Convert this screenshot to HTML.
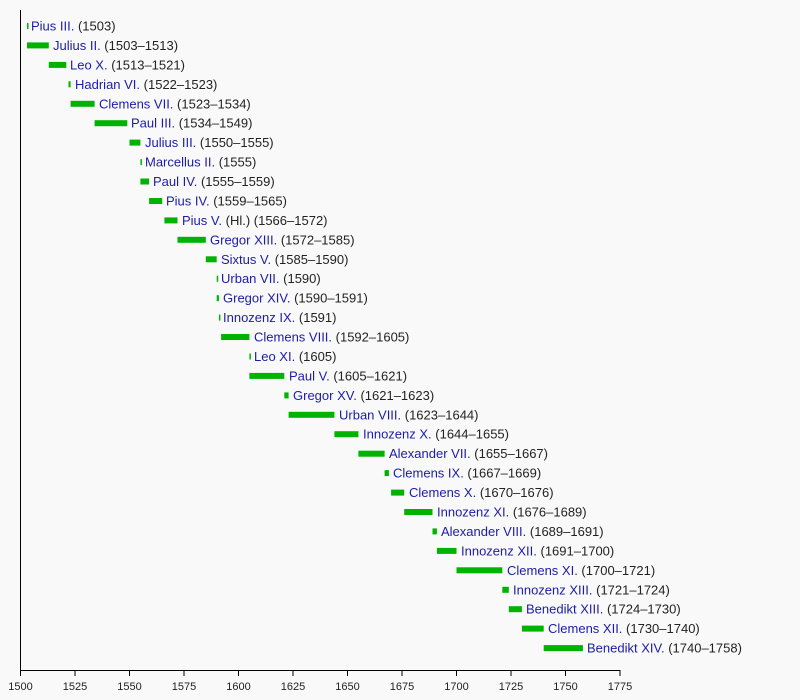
<!DOCTYPE html>
<html><head><meta charset="utf-8"><style>
html,body{margin:0;padding:0;background:#f9f9f9;}
svg{display:block;}
text{font-family:"Liberation Sans",Arial,sans-serif;font-size:13px;}
.n{fill:#1c1ca8;}
.p{fill:#222;}
</style></head><body>
<svg width="800" height="700" viewBox="0 0 800 700" xmlns="http://www.w3.org/2000/svg">
<rect width="800" height="700" fill="#f9f9f9"/>
<g fill="#00b300">
<rect x="27.0" y="23.0" width="1.5" height="6"/>
<rect x="27.0" y="42.4" width="21.8" height="6"/>
<rect x="48.8" y="61.9" width="17.5" height="6"/>
<rect x="68.5" y="81.3" width="2.1" height="6"/>
<rect x="70.6" y="100.8" width="24.0" height="6"/>
<rect x="94.6" y="120.2" width="32.7" height="6"/>
<rect x="129.5" y="139.6" width="10.9" height="6"/>
<rect x="140.4" y="159.1" width="1.5" height="6"/>
<rect x="140.4" y="178.5" width="8.7" height="6"/>
<rect x="149.1" y="198.0" width="13.1" height="6"/>
<rect x="164.4" y="217.4" width="13.1" height="6"/>
<rect x="177.5" y="236.8" width="28.3" height="6"/>
<rect x="205.8" y="256.3" width="10.9" height="6"/>
<rect x="216.7" y="275.7" width="1.5" height="6"/>
<rect x="216.7" y="295.2" width="2.2" height="6"/>
<rect x="218.9" y="314.6" width="1.5" height="6"/>
<rect x="221.1" y="334.0" width="28.3" height="6"/>
<rect x="249.4" y="353.5" width="1.5" height="6"/>
<rect x="249.4" y="372.9" width="34.9" height="6"/>
<rect x="284.3" y="392.4" width="4.3" height="6"/>
<rect x="288.6" y="411.8" width="45.8" height="6"/>
<rect x="334.4" y="431.2" width="24.0" height="6"/>
<rect x="358.4" y="450.7" width="26.2" height="6"/>
<rect x="384.6" y="470.1" width="4.3" height="6"/>
<rect x="391.1" y="489.6" width="13.1" height="6"/>
<rect x="404.2" y="509.0" width="28.3" height="6"/>
<rect x="432.5" y="528.4" width="4.4" height="6"/>
<rect x="436.9" y="547.9" width="19.6" height="6"/>
<rect x="456.5" y="567.3" width="45.8" height="6"/>
<rect x="502.3" y="586.8" width="6.5" height="6"/>
<rect x="508.8" y="606.2" width="13.1" height="6"/>
<rect x="521.9" y="625.6" width="21.8" height="6"/>
<rect x="543.7" y="645.1" width="39.2" height="6"/>
</g>
<g>
<text x="31" y="30.5"><tspan class="n">Pius III.</tspan><tspan class="p"> (1503)</tspan></text>
<text x="53" y="49.9"><tspan class="n">Julius II.</tspan><tspan class="p"> (1503–1513)</tspan></text>
<text x="70" y="69.4"><tspan class="n">Leo X.</tspan><tspan class="p"> (1513–1521)</tspan></text>
<text x="75" y="88.8"><tspan class="n">Hadrian VI.</tspan><tspan class="p"> (1522–1523)</tspan></text>
<text x="99" y="108.3"><tspan class="n">Clemens VII.</tspan><tspan class="p"> (1523–1534)</tspan></text>
<text x="131" y="127.7"><tspan class="n">Paul III.</tspan><tspan class="p"> (1534–1549)</tspan></text>
<text x="145" y="147.1"><tspan class="n">Julius III.</tspan><tspan class="p"> (1550–1555)</tspan></text>
<text x="145" y="166.6"><tspan class="n">Marcellus II.</tspan><tspan class="p"> (1555)</tspan></text>
<text x="153" y="186.0"><tspan class="n">Paul IV.</tspan><tspan class="p"> (1555–1559)</tspan></text>
<text x="166" y="205.5"><tspan class="n">Pius IV.</tspan><tspan class="p"> (1559–1565)</tspan></text>
<text x="182" y="224.9"><tspan class="n">Pius V.</tspan><tspan class="p"> (Hl.) (1566–1572)</tspan></text>
<text x="210" y="244.3"><tspan class="n">Gregor XIII.</tspan><tspan class="p"> (1572–1585)</tspan></text>
<text x="221" y="263.8"><tspan class="n">Sixtus V.</tspan><tspan class="p"> (1585–1590)</tspan></text>
<text x="221" y="283.2"><tspan class="n">Urban VII.</tspan><tspan class="p"> (1590)</tspan></text>
<text x="223" y="302.7"><tspan class="n">Gregor XIV.</tspan><tspan class="p"> (1590–1591)</tspan></text>
<text x="223" y="322.1"><tspan class="n">Innozenz IX.</tspan><tspan class="p"> (1591)</tspan></text>
<text x="254" y="341.5"><tspan class="n">Clemens VIII.</tspan><tspan class="p"> (1592–1605)</tspan></text>
<text x="254" y="361.0"><tspan class="n">Leo XI.</tspan><tspan class="p"> (1605)</tspan></text>
<text x="289" y="380.4"><tspan class="n">Paul V.</tspan><tspan class="p"> (1605–1621)</tspan></text>
<text x="293" y="399.9"><tspan class="n">Gregor XV.</tspan><tspan class="p"> (1621–1623)</tspan></text>
<text x="339" y="419.3"><tspan class="n">Urban VIII.</tspan><tspan class="p"> (1623–1644)</tspan></text>
<text x="363" y="438.7"><tspan class="n">Innozenz X.</tspan><tspan class="p"> (1644–1655)</tspan></text>
<text x="389" y="458.2"><tspan class="n">Alexander VII.</tspan><tspan class="p"> (1655–1667)</tspan></text>
<text x="393" y="477.6"><tspan class="n">Clemens IX.</tspan><tspan class="p"> (1667–1669)</tspan></text>
<text x="409" y="497.1"><tspan class="n">Clemens X.</tspan><tspan class="p"> (1670–1676)</tspan></text>
<text x="437" y="516.5"><tspan class="n">Innozenz XI.</tspan><tspan class="p"> (1676–1689)</tspan></text>
<text x="441" y="535.9"><tspan class="n">Alexander VIII.</tspan><tspan class="p"> (1689–1691)</tspan></text>
<text x="461" y="555.4"><tspan class="n">Innozenz XII.</tspan><tspan class="p"> (1691–1700)</tspan></text>
<text x="507" y="574.8"><tspan class="n">Clemens XI.</tspan><tspan class="p"> (1700–1721)</tspan></text>
<text x="513" y="594.3"><tspan class="n">Innozenz XIII.</tspan><tspan class="p"> (1721–1724)</tspan></text>
<text x="526" y="613.7"><tspan class="n">Benedikt XIII.</tspan><tspan class="p"> (1724–1730)</tspan></text>
<text x="548" y="633.1"><tspan class="n">Clemens XII.</tspan><tspan class="p"> (1730–1740)</tspan></text>
<text x="587" y="652.6"><tspan class="n">Benedikt XIV.</tspan><tspan class="p"> (1740–1758)</tspan></text>
</g>
<g stroke="#000" stroke-width="1" fill="none">
<line x1="20.5" y1="10" x2="20.5" y2="670"/>
<line x1="20" y1="670.5" x2="620.5" y2="670.5"/>
<line x1="20.5" y1="670" x2="20.5" y2="676"/>
<line x1="75" y1="670" x2="75" y2="676"/>
<line x1="129.5" y1="670" x2="129.5" y2="676"/>
<line x1="184" y1="670" x2="184" y2="676"/>
<line x1="238.5" y1="670" x2="238.5" y2="676"/>
<line x1="293" y1="670" x2="293" y2="676"/>
<line x1="347.5" y1="670" x2="347.5" y2="676"/>
<line x1="402" y1="670" x2="402" y2="676"/>
<line x1="456.5" y1="670" x2="456.5" y2="676"/>
<line x1="511" y1="670" x2="511" y2="676"/>
<line x1="565.5" y1="670" x2="565.5" y2="676"/>
<line x1="620" y1="670" x2="620" y2="676"/>
</g>
<g text-anchor="middle" style="font-size:11px">
<text x="20.5" y="690" fill="#222" style="font-size:11px">1500</text>
<text x="75" y="690" fill="#222" style="font-size:11px">1525</text>
<text x="129.5" y="690" fill="#222" style="font-size:11px">1550</text>
<text x="184" y="690" fill="#222" style="font-size:11px">1575</text>
<text x="238.5" y="690" fill="#222" style="font-size:11px">1600</text>
<text x="293" y="690" fill="#222" style="font-size:11px">1625</text>
<text x="347.5" y="690" fill="#222" style="font-size:11px">1650</text>
<text x="402" y="690" fill="#222" style="font-size:11px">1675</text>
<text x="456.5" y="690" fill="#222" style="font-size:11px">1700</text>
<text x="511" y="690" fill="#222" style="font-size:11px">1725</text>
<text x="565.5" y="690" fill="#222" style="font-size:11px">1750</text>
<text x="620" y="690" fill="#222" style="font-size:11px">1775</text>
</g>
</svg>
</body></html>
